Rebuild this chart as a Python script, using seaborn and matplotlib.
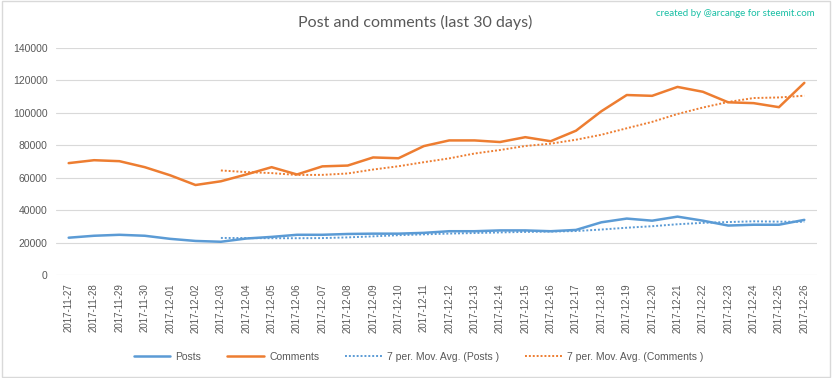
import pandas as pd
import numpy as np
import seaborn as sns
import matplotlib.pyplot as plt
from matplotlib.lines import Line2D
from matplotlib.patches import Rectangle


dates = ["2017-11-27", "2017-11-28", "2017-11-29", "2017-11-30", "2017-12-01",
         "2017-12-02", "2017-12-03", "2017-12-04", "2017-12-05", "2017-12-06",
         "2017-12-07", "2017-12-08", "2017-12-09", "2017-12-10", "2017-12-11",
         "2017-12-12", "2017-12-13", "2017-12-14", "2017-12-15", "2017-12-16",
         "2017-12-17", "2017-12-18", "2017-12-19", "2017-12-20", "2017-12-21",
         "2017-12-22", "2017-12-23", "2017-12-24", "2017-12-25", "2017-12-26"]

posts = [23000, 24200, 24800, 24200, 22300, 21000, 20500, 22500, 23500, 24800,
         24800, 25300, 25500, 25500, 26000, 27000, 27000, 27500, 27500, 27000,
         27800, 32500, 34800, 33500, 36000, 33500, 30500, 31000, 31000, 34000]

comments = [69000, 70800, 70200, 66500, 61500, 55500, 57800, 62000, 66500, 62000,
            67000, 67500, 72500, 72000, 79500, 83000, 83000, 82000, 85000, 82500,
            89000, 101000, 111000, 110500, 116000, 113000, 106500, 106000, 103500, 118500]

y_ticks = [0, 20000, 40000, 60000, 80000, 100000, 120000, 140000]

BLUE = "#5B9BD5"
ORANGE = "#ED7D31"
GREY = "#595959"

# --- dados ---
df = pd.DataFrame({"day": np.arange(len(dates)), "Posts": posts, "Comments": comments})
# media movel de 7 periodos (linha de tendencia do grafico)
df["ma_posts"] = df["Posts"].rolling(7).mean()
df["ma_comments"] = df["Comments"].rolling(7).mean()

sns.set_style("white")
plt.rcParams["font.family"] = ["Liberation Sans", "DejaVu Sans"]

fig = plt.figure(figsize=(8.32, 3.78), dpi=100)
ax = fig.add_axes([56 / 832, 1 - 275 / 378, 761 / 832, 227 / 378])

sns.lineplot(data=df, x="day", y="Posts", ax=ax, color=BLUE, linewidth=1.8)
sns.lineplot(data=df, x="day", y="Comments", ax=ax, color=ORANGE, linewidth=1.8)
sns.lineplot(data=df.dropna(), x="day", y="ma_posts", ax=ax, color=BLUE,
             linewidth=1.4, linestyle=(0, (1, 1)))
sns.lineplot(data=df.dropna(), x="day", y="ma_comments", ax=ax, color=ORANGE,
             linewidth=1.4, linestyle=(0, (1, 1)))

ax.set_xlim(-0.5, len(dates) - 0.5)
ax.set_ylim(0, 140000)
ax.set_yticks(y_ticks)
ax.set_yticklabels([str(v) for v in y_ticks], fontsize=7.5, color=GREY)
ax.set_xticks(df["day"])
ax.set_xticklabels(dates, rotation=90, fontsize=7, color=GREY)
ax.tick_params(axis="both", length=0, pad=6)
ax.set_xlabel("")
ax.set_ylabel("")
ax.grid(axis="y", color="#D9D9D9", linewidth=0.8)
ax.set_axisbelow(True)
for s in ax.spines.values():
    s.set_visible(False)

fig.text(0.499, 1 - 22 / 378, "Post and comments (last 30 days)", ha="center", va="center",
         fontsize=11.5, color=GREY, family=["Lato", "DejaVu Sans"])
fig.text(815 / 832, 1 - 14 / 378, "created by @arcange for steemit.com", ha="right", va="center",
         fontsize=7, color="#17BFA4", family=["Lato", "DejaVu Sans"])

handles = [
    Line2D([], [], color=BLUE, linewidth=1.8),
    Line2D([], [], color=ORANGE, linewidth=1.8),
    Line2D([], [], color=BLUE, linewidth=1.4, linestyle=(0, (1, 1))),
    Line2D([], [], color=ORANGE, linewidth=1.4, linestyle=(0, (1, 1))),
]
labels = ["Posts", "Comments", "7 per. Mov. Avg. (Posts )", "7 per. Mov. Avg. (Comments )"]
leg = fig.legend(handles, labels, loc="center", bbox_to_anchor=(0.503, 1 - 357 / 378), ncol=4,
                 frameon=False, fontsize=7.5, handlelength=3.5, handletextpad=0.5,
                 columnspacing=2.5)
for t in leg.get_texts():
    t.set_color(GREY)

fig.patches.append(Rectangle((0.002, 0.003), 0.996, 0.994, transform=fig.transFigure,
                             fill=False, edgecolor="#D9D9D9", linewidth=1))

fig.savefig("out.png", dpi=100)
